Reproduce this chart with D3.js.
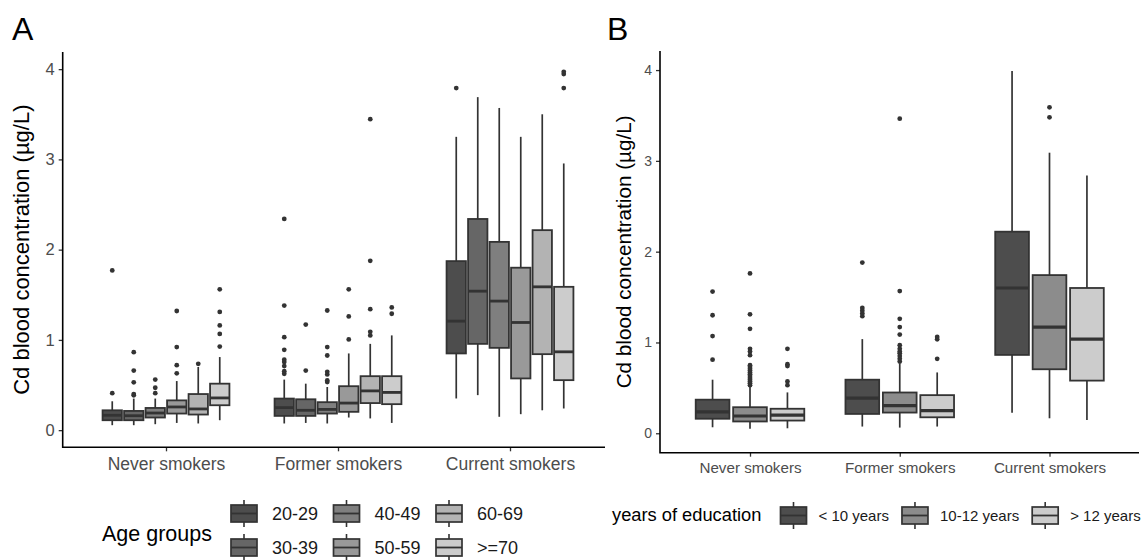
<!DOCTYPE html>
<html>
<head>
<meta charset="utf-8">
<script src="https://cdn.jsdelivr.net/npm/d3@7"></script>
<style>
body { margin: 0; background: #fff; }
text { font-family: "Liberation Sans", Arial, sans-serif; }
</style>
</head>
<body>
<div id="chart"></div>
<script>
const smokingGroups = ["Never smokers", "Former smokers", "Current smokers"];
const ageGroups = ["20-29", "30-39", "40-49", "50-59", "60-69", ">=70"];
const eduGroups = ["< 10 years", "10-12 years", "> 12 years"];
const yTicks = [0, 1, 2, 3, 4];

// panel A, rows = smoking group, columns = age group
const ageLow = [
  [0.055, 0.055, 0.066, 0.08, 0.074, 0.11],
  [0.074, 0.08, 0.074, 0.14, 0.13, 0.08],
  [0.351, 0.388, 0.148, 0.177, 0.22, 0.24]
];
const ageQ1 = [
  [0.11, 0.11, 0.14, 0.184, 0.173, 0.276],
  [0.158, 0.158, 0.184, 0.203, 0.30, 0.288],
  [0.85, 0.956, 0.912, 0.573, 0.842, 0.554]
];
const ageMedian = [
  [0.165, 0.16, 0.19, 0.257, 0.235, 0.357],
  [0.25, 0.22, 0.23, 0.30, 0.435, 0.418],
  [1.208, 1.54, 1.43, 1.193, 1.588, 0.868]
];
const ageQ3 = [
  [0.22, 0.213, 0.246, 0.33, 0.40, 0.515],
  [0.35, 0.342, 0.31, 0.487, 0.598, 0.598],
  [1.873, 2.34, 2.086, 1.80, 2.216, 1.588]
];
const ageHigh = [
  [0.32, 0.35, 0.35, 0.544, 0.70, 0.81],
  [0.56, 0.515, 0.478, 0.85, 0.956, 1.05],
  [3.25, 3.69, 3.57, 3.25, 3.50, 2.955]
];
const ageOutliers = [
  [[0.41, 1.77], [0.386, 0.40, 0.53, 0.66, 0.864], [0.41, 0.47, 0.56], [0.63, 0.72, 0.92, 1.32], [0.735], [0.926, 1.066, 1.16, 1.31, 1.56]],
  [[0.625, 0.654, 0.71, 0.754, 0.78, 0.89, 1.03, 1.38, 2.34], [0.66, 1.17], [0.533, 0.55, 0.617, 0.646, 0.827, 0.92, 1.326], [1.005, 1.26, 1.56], [1.05, 1.09, 1.34, 1.876, 3.446], [1.29, 1.36]],
  [[3.79], [], [], [], [], [3.79, 3.945, 3.97]]
];

// panel B, rows = smoking group, columns = education group
const eduLow = [
  [0.066, 0.05, 0.055],
  [0.074, 0.0625, 0.074],
  [0.227, 0.165, 0.147]
];
const eduQ1 = [
  [0.16, 0.13, 0.14],
  [0.213, 0.228, 0.176],
  [0.863, 0.705, 0.58]
];
const eduMedian = [
  [0.235, 0.19, 0.2],
  [0.386, 0.305, 0.25],
  [1.60, 1.169, 1.036]
];
const eduQ3 = [
  [0.37, 0.287, 0.27],
  [0.59, 0.449, 0.42],
  [2.22, 1.742, 1.60]
];
const eduHigh = [
  [0.59, 0.515, 0.45],
  [1.037, 0.77, 0.67],
  [3.99, 3.09, 2.84]
];
const eduOutliers = [
  [[0.81, 1.07, 1.30, 1.56],
   [0.53, 0.55, 0.57, 0.59, 0.61, 0.63, 0.65, 0.67, 0.69, 0.71, 0.73, 0.75, 0.86, 0.90, 0.93, 1.15, 1.31, 1.76],
   [0.53, 0.57, 0.74, 0.76, 0.93]],
  [[1.29, 1.32, 1.35, 1.38, 1.88],
   [0.79, 0.82, 0.85, 0.88, 0.90, 0.93, 0.97, 1.087, 1.17, 1.26, 1.566, 3.465],
   [0.82, 1.035, 1.06]],
  [[], [3.48, 3.59], []]
];

const ageFills = ["#4d4d4d", "#666666", "#7f7f7f", "#999999", "#b3b3b3", "#cccccc"];
const eduFills = ["#4d4d4d", "#8c8c8c", "#cccccc"];

const ink = "#333333";
const svg = d3.select("#chart").append("svg")
  .attr("width", 1145)
  .attr("height", 560);

function drawPanel(p) {
  const g = svg.append("g");
  const x = d3.scalePoint().domain(smokingGroups).range([p.xFirst, p.xLast]);
  const step = x.step();
  const sub = d3.scaleBand().domain(p.groups)
    .range([-0.375 * step, 0.375 * step])
    .paddingInner(0.1).paddingOuter(0.05);
  const y = d3.scaleLinear().domain(p.yDomain).range([p.bottom, p.top]);
  const fill = d3.scaleOrdinal().domain(p.groups).range(p.fills);
  const bw = sub.bandwidth();

  const boxes = [];
  const points = [];
  smokingGroups.forEach((s, i) => {
    p.groups.forEach((gr, j) => {
      const cx = x(s) + sub(gr) + bw / 2;
      boxes.push({ s, gr, cx, lo: p.low[i][j], q1: p.q1[i][j], med: p.med[i][j], q3: p.q3[i][j], hi: p.high[i][j] });
      p.out[i][j].forEach(v => points.push({ cx, v }));
    });
  });

  const b = g.selectAll("g.box").data(boxes).join("g").attr("class", "box");
  b.append("line")
    .attr("x1", d => d.cx).attr("x2", d => d.cx)
    .attr("y1", d => y(d.q3)).attr("y2", d => y(d.hi))
    .attr("stroke", ink).attr("stroke-width", 1.7);
  b.append("line")
    .attr("x1", d => d.cx).attr("x2", d => d.cx)
    .attr("y1", d => y(d.q1)).attr("y2", d => y(d.lo))
    .attr("stroke", ink).attr("stroke-width", 1.7);
  b.append("rect")
    .attr("x", d => d.cx - bw / 2).attr("width", bw)
    .attr("y", d => y(d.q3)).attr("height", d => y(d.q1) - y(d.q3))
    .attr("fill", d => fill(d.gr))
    .attr("stroke", ink).attr("stroke-width", 1.8);
  b.append("line")
    .attr("x1", d => d.cx - bw / 2).attr("x2", d => d.cx + bw / 2)
    .attr("y1", d => y(d.med)).attr("y2", d => y(d.med))
    .attr("stroke", ink).attr("stroke-width", p.medWidth);

  g.selectAll("circle.out").data(points).join("circle")
    .attr("class", "out")
    .attr("cx", d => d.cx).attr("cy", d => y(d.v))
    .attr("r", 2.4).attr("fill", ink);

  // axes
  const ya = g.append("g")
    .attr("transform", `translate(${p.left},0)`)
    .call(d3.axisLeft(y).tickValues(yTicks).tickFormat(d3.format("d")).tickSize(4).tickPadding(4));
  ya.select(".domain").remove();
  ya.selectAll(".tick line").attr("stroke", ink).attr("stroke-width", 1.3);
  ya.selectAll(".tick text").attr("fill", "#4d4d4d").style("font-size", p.yTickSize + "px");

  const xa = g.append("g")
    .attr("transform", `translate(0,${p.bottom})`)
    .call(d3.axisBottom(x).tickSize(4).tickPadding(6));
  xa.select(".domain").remove();
  xa.selectAll(".tick line").attr("stroke", ink).attr("stroke-width", 1.3);
  xa.selectAll(".tick text").attr("fill", "#4d4d4d").style("font-size", p.xTickSize + "px");

  g.append("path")
    .attr("d", `M${p.left},${p.top}V${p.bottom}H${p.right}`)
    .attr("fill", "none").attr("stroke", "#000").attr("stroke-width", 1.6);

  g.append("text")
    .attr("transform", `translate(${p.titleX},${(p.top + p.bottom) / 2}) rotate(-90)`)
    .attr("text-anchor", "middle")
    .style("font-size", p.titleSize + "px")
    .attr("fill", "#000")
    .text("Cd blood concentration (\u00b5g/L)");

  g.append("text")
    .attr("x", p.tagX).attr("y", 40)
    .style("font-size", "32px")
    .text(p.tag);

  return fill;
}

function legendKey(g, x0, yTop, w, h, color) {
  const cx = x0 + w / 2;
  g.append("line").attr("x1", cx).attr("x2", cx).attr("y1", yTop - 5).attr("y2", yTop + h + 5)
    .attr("stroke", ink).attr("stroke-width", 1.6);
  g.append("rect").attr("x", x0).attr("y", yTop).attr("width", w).attr("height", h)
    .attr("fill", color).attr("stroke", ink).attr("stroke-width", 1.7);
  g.append("line").attr("x1", x0).attr("x2", x0 + w).attr("y1", yTop + h / 2).attr("y2", yTop + h / 2)
    .attr("stroke", ink).attr("stroke-width", 1.8);
}

const fillA = drawPanel({
  groups: ageGroups, fills: ageFills,
  low: ageLow, q1: ageQ1, med: ageMedian, q3: ageQ3, high: ageHigh, out: ageOutliers,
  xFirst: 166, xLast: 510, left: 62.7, right: 605, top: 52, bottom: 447.3,
  yDomain: [-0.19, 4.19], medWidth: 2.8,
  xTickSize: 17.5, yTickSize: 16.5, titleSize: 22, titleX: 29, tag: "A", tagX: 12
});

const fillB = drawPanel({
  groups: eduGroups, fills: eduFills,
  low: eduLow, q1: eduQ1, med: eduMedian, q3: eduQ3, high: eduHigh, out: eduOutliers,
  xFirst: 750, xLast: 1049.5, left: 660, right: 1139, top: 51, bottom: 452.7,
  yDomain: [-0.214, 4.21], medWidth: 3.2,
  xTickSize: 15.2, yTickSize: 14, titleSize: 20.7, titleX: 630.5, tag: "B", tagX: 607
});

// legend A
const legA = svg.append("g");
legA.append("text").attr("x", 102).attr("y", 540.5).style("font-size", "21.5px").text("Age groups");
ageGroups.forEach((gr, i) => {
  const col = Math.floor(i / 2), row = i % 2;
  const kx = 231 + col * 102.5;
  const ky = 505 + row * 34;
  legendKey(legA, kx, ky, 26, 17, fillA(gr));
  legA.append("text").attr("x", kx + 41).attr("y", ky + 8.5).attr("dy", "0.35em")
    .style("font-size", "18px").attr("fill", "#1a1a1a").text(gr);
});

// legend B
const legB = svg.append("g");
legB.append("text").attr("x", 612).attr("y", 521.4).style("font-size", "18.3px").text("years of education");
let kx = 780.5;
eduGroups.forEach(gr => {
  legendKey(legB, kx, 507, 26, 17, fillB(gr));
  const t = legB.append("text").attr("x", kx + 38).attr("y", 515.5).attr("dy", "0.35em")
    .style("font-size", "15px").attr("fill", "#1a1a1a").text(gr);
  kx = kx + 38 + t.node().getComputedTextLength() + 13;
});
</script>
</body>
</html>
